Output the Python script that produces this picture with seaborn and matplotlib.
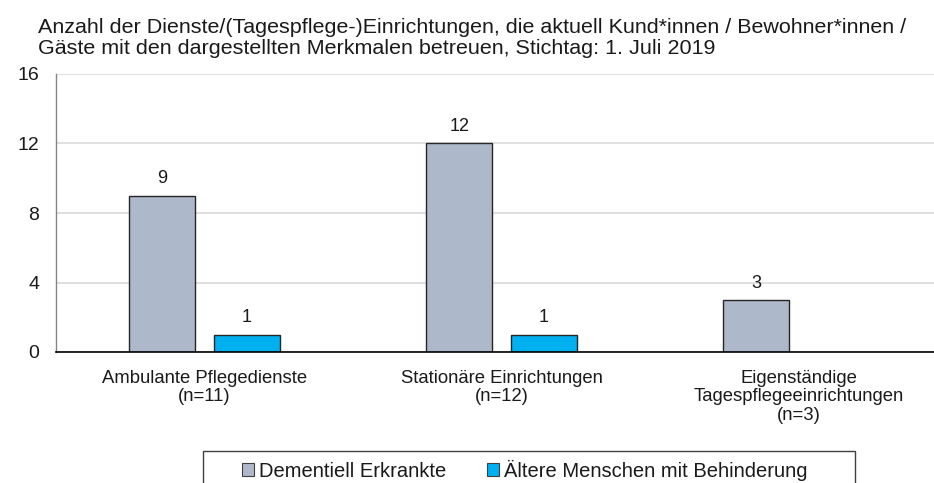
import matplotlib
matplotlib.use("Agg")
import matplotlib.pyplot as plt
import seaborn as sns
import pandas as pd
import numpy as np
from matplotlib.patches import Rectangle, Patch

categories = ["Ambulante Pflegedienste\n(n=11)",
              "Stationäre Einrichtungen\n(n=12)",
              "Eigenständige\nTagespflegeeinrichtungen\n(n=3)"]
series = ["Dementiell Erkrankte", "Ältere Menschen mit Behinderung"]
dementiell = [9, 12, 3]
behinderung = [1, 1, np.nan]
yticks = [0, 4, 8, 12, 16]
title = ("Anzahl der Dienste/(Tagespflege-)Einrichtungen, die aktuell Kund*innen / Bewohner*innen /\n"
         "Gäste mit den dargestellten Merkmalen betreuen, Stichtag: 1. Juli 2019")
colors = ["#ADB9CA", "#00B0F0"]

df = pd.DataFrame({
    "Kategorie": categories * 2,
    "Serie": [series[0]] * 3 + [series[1]] * 3,
    "Wert": dementiell + behinderung,
})

sns.set_theme(style="white")
plt.rcParams["font.family"] = ["Liberation Sans", "DejaVu Sans"]

fig = plt.figure(figsize=(9.34, 4.83), dpi=100)
ax = fig.add_axes([56 / 934, 131 / 483, 891 / 934, 278 / 483])

sns.barplot(data=df, x="Kategorie", y="Wert", hue="Serie", order=categories,
            hue_order=series, palette=colors, saturation=1, width=0.569, gap=0.22,
            edgecolor="#262626", linewidth=1.0, ax=ax, legend=False)

ax.set_ylim(0, 16)
ax.set_xlim(-0.5, 2.5)
ax.set_yticks(yticks)
ax.set_yticklabels([str(t) for t in yticks], fontsize=14)
ax.tick_params(axis="y", length=0, pad=12)
ax.tick_params(axis="x", length=0, pad=13)
for lbl in ax.get_xticklabels():
    lbl.set_fontsize(13.3)
    lbl.set_linespacing(1.1)
    lbl.set_color("#1a1a1a")
for lbl in ax.get_yticklabels():
    lbl.set_color("#1a1a1a")
ax.set_xlabel("")
ax.set_ylabel("")
ax.yaxis.grid(True, color="#D9D9D9", linewidth=1.2)
ax.set_axisbelow(True)
for s in ["top", "right"]:
    ax.spines[s].set_visible(False)
ax.spines["left"].set_color("#868686")
ax.spines["left"].set_linewidth(1.0)
ax.spines["bottom"].set_color("black")
ax.spines["bottom"].set_linewidth(1.2)

for cont in ax.containers:
    for bar, v in zip(cont, cont.datavalues):
        if np.isnan(v):
            continue
        ax.annotate(f"{int(v)}", (bar.get_x() + bar.get_width() / 2, v),
                    xytext=(0, 6), textcoords="offset points",
                    ha="center", va="bottom", fontsize=13, color="#1a1a1a")

fig.text(38 / 934, 1 - 38 / 483, title, fontsize=15.45, ha="left", va="center",
         linespacing=1.15, color="#1a1a1a")

# legend
handles = [Patch(facecolor=c, edgecolor="#404040", linewidth=0.8) for c in colors]
leg = fig.legend(handles, series, loc="center", bbox_to_anchor=(525 / 934, 1 - 470 / 483),
                 ncol=2, frameon=False, fontsize=14.5, handlelength=0.6, handleheight=0.6,
                 handletextpad=0.25, columnspacing=2.0)
for t in leg.get_texts():
    t.set_color("#1a1a1a")
fig.patches.append(Rectangle((203 / 934, -0.05), (855 - 203) / 934, 0.05 + 32 / 483,
                             transform=fig.transFigure, fill=False,
                             edgecolor="#404040", linewidth=1.0))

fig.savefig("out.png", dpi=100)
